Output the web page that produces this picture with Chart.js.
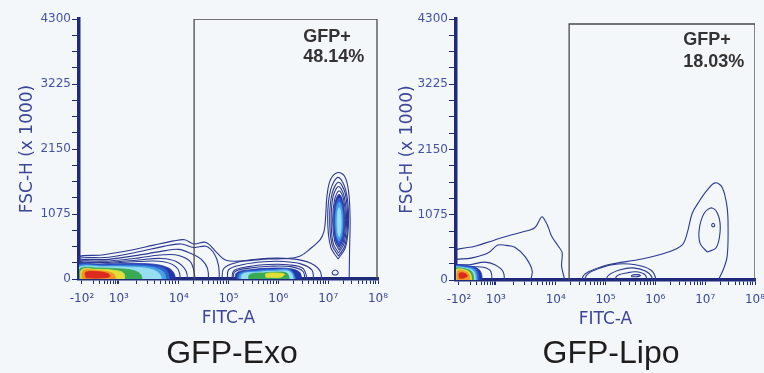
<!DOCTYPE html>
<html>
<head>
<meta charset="utf-8">
<script src="https://cdn.jsdelivr.net/npm/chart.js@4.4.0/dist/chart.umd.min.js"></script>
<style>
  body { margin: 0; width: 764px; height: 373px; overflow: hidden; background: #f4f7fa; position: relative; }
  .panel { position: absolute; top: 0; height: 373px; }
  #exoBox { left: 0; width: 398px; }
  #lipoBox { left: 380px; width: 395px; }
  .caption { position: absolute; top: 336px; left: 110px; width: 244px; text-align: center;
             font-family: "Liberation Sans", Arial, sans-serif; font-size: 32px; line-height: 32px; color: #1e1e1e; }
</style>
</head>
<body>
<div class="panel" id="exoBox">
  <canvas id="exo" width="398" height="373"></canvas>
  <div class="caption">GFP-Exo</div>
</div>
<div class="panel" id="lipoBox">
  <canvas id="lipo" width="395" height="373"></canvas>
  <div class="caption" style="left:109px">GFP-Lipo</div>
</div>
<script>
// x values are in display units of the biexponential FITC-A axis (10^4 = 2 ... 10^8 = 6)
// y values are FSC-H (x 1000). Each contour: [density level, points]; level 0 = plain contour line
const xMajorTicks = [0.06, 0.8, 2, 3, 4, 5, 6];
const xTickLabels = ['-10\u00B2', '10\u00B3', '10\u2074', '10\u2075', '10\u2076', '10\u2077', '10\u2078'];
const yMajorTicks = [0, 1075, 2150, 3225, 4300];

const exoGate = [[2.31, -60], [2.31, 4300], [5.98, 4300], [5.98, -60]];
const lipoGate = [[2.27, -60], [2.27, 4218], [6.0, 4218], [6.0, -60]];

const exoGateText = ['GFP+', '48.14%'];
const lipoGateText = ['GFP+', '18.03%'];

const exoOuter = [
  [0, [[-0.1,-100],[-0.1,330],[0.5,400],[1.0,470],[1.5,560],[1.9,630],[2.12,650],[2.3,580],[2.55,605],[2.75,450],[2.95,310],[3.3,300],[3.8,330],[4.2,340],[4.44,380],[4.64,500],[4.84,650],[4.92,800],[4.95,1050],[4.98,1400],[5.05,1650],[5.2,1760],[5.33,1700],[5.41,1450],[5.44,1000],[5.43,500],[5.42,-100]]]
];

const exoLowPop = [
  [0, [[-0.1,-100],[-0.1,300],[0.6,360],[1.2,450],[1.7,540],[2.05,580],[2.3,520],[2.55,540],[2.72,410],[2.8,220],[2.82,-100]]],
  [0, [[-0.1,-100],[-0.1,275],[0.6,325],[1.2,395],[1.7,465],[2.0,490],[2.25,420],[2.45,330],[2.58,170],[2.6,-100]]],
  [0, [[-0.1,-100],[-0.1,255],[0.6,298],[1.2,350],[1.7,400],[2.0,390],[2.25,270],[2.35,-100]]],
  [0, [[-0.1,-100],[-0.1,240],[0.6,275],[1.2,315],[1.65,340],[1.95,290],[2.15,130],[2.18,-100]]],
  [0, [[-0.1,-100],[-0.1,232],[0.6,262],[1.2,290],[1.7,285],[1.98,170],[2.05,-100]]],
  [1, [[-0.1,-100],[-0.1,222],[0.5,245],[1.0,255],[1.5,245],[1.8,180],[1.92,70],[1.92,-100]]],
  [2, [[-0.1,-100],[-0.1,210],[0.5,230],[1.0,235],[1.5,220],[1.75,150],[1.84,-100]]],
  [3, [[-0.05,-100],[-0.05,198],[0.5,214],[1.0,215],[1.45,195],[1.7,110],[1.76,-100]]],
  [4, [[0,-100],[0,185],[0.5,200],[1.0,195],[1.4,170],[1.62,80],[1.66,-100]]],
  [5, [[0.02,-100],[0.02,168],[0.4,182],[0.8,170],[1.1,140],[1.25,60],[1.25,-100]]],
  [6, [[0.05,-100],[0.05,150],[0.35,160],[0.7,145],[0.9,90],[0.9,-100]]],
  [7, [[0.08,-100],[0.08,135],[0.35,140],[0.6,115],[0.72,60],[0.72,-100]]],
  [8, [[0.14,20],[0.13,110],[0.35,125],[0.58,90],[0.62,40],[0.4,15],[0.14,20]]]
];

const exoMidPop = [
  [0, [[2.88,-100],[2.9,170],[3.2,280],[3.6,330],[4.0,345],[4.4,320],[4.7,240],[4.85,110],[4.86,-100]]],
  [0, [[3.0,-100],[3.0,150],[3.3,240],[3.7,285],[4.1,290],[4.45,250],[4.68,140],[4.7,-100]]],
  [0, [[3.08,-100],[3.1,130],[3.4,205],[3.8,240],[4.2,235],[4.5,170],[4.6,-100]]],
  [0, [[3.1,-100],[3.12,115],[3.42,180],[3.82,210],[4.25,205],[4.5,120],[4.53,-100]]],
  [0, [[5.1,70],[5.08,110],[5.14,150],[5.2,110],[5.17,70],[5.1,70]]],
  [1, [[3.14,-100],[3.16,100],[3.45,155],[3.85,180],[4.25,170],[4.44,100],[4.46,-100]]],
  [2, [[3.18,-100],[3.2,90],[3.5,140],[3.9,160],[4.25,145],[4.4,-100]]],
  [3, [[3.22,-100],[3.24,82],[3.55,125],[3.9,145],[4.25,130],[4.36,-100]]],
  [4, [[3.27,-100],[3.28,75],[3.6,112],[3.95,128],[4.24,110],[4.32,-100]]],
  [5, [[3.42,-100],[3.42,70],[3.7,100],[4.0,115],[4.18,90],[4.24,-100]]],
  [6, [[3.75,30],[3.75,85],[3.95,100],[4.12,80],[4.05,30],[3.75,30]]]
];

const exoHighPop = [
  [0, [[5.2,330],[5.35,530],[5.41,1005],[5.35,1480],[5.2,1680],[5.05,1480],[4.99,1005],[5.05,530],[5.2,330]]],
  [0, [[5.21,380],[5.34,560],[5.39,990],[5.34,1420],[5.21,1600],[5.08,1420],[5.03,990],[5.08,560],[5.21,380]]],
  [0, [[5.21,430],[5.32,590],[5.37,980],[5.32,1370],[5.21,1530],[5.1,1370],[5.06,980],[5.1,590],[5.21,430]]],
  [0, [[5.22,480],[5.31,625],[5.35,970],[5.31,1315],[5.22,1460],[5.13,1315],[5.09,970],[5.13,625],[5.22,480]]],
  [1, [[5.22,520],[5.3,650],[5.33,960],[5.3,1270],[5.22,1400],[5.14,1270],[5.11,960],[5.14,650],[5.22,520]]],
  [2, [[5.22,570],[5.28,680],[5.31,955],[5.28,1230],[5.22,1340],[5.16,1230],[5.13,955],[5.16,680],[5.22,570]]],
  [3, [[5.22,630],[5.27,720],[5.29,950],[5.27,1180],[5.22,1270],[5.17,1180],[5.15,950],[5.17,720],[5.22,630]]],
  [4, [[5.22,700],[5.248,770],[5.26,940],[5.248,1110],[5.22,1180],[5.192,1110],[5.18,940],[5.192,770],[5.22,700]]]
];

const lipoOuter = [
  [0, [[2.5,-100],[2.55,60],[2.65,130],[3.05,250],[3.73,345],[4.26,460],[4.54,580],[4.64,775],[4.74,1100],[4.86,1270],[5.04,1480],[5.2,1600],[5.34,1530],[5.44,1200],[5.46,820],[5.44,380],[5.36,165],[5.2,-100]]]
];

const lipoLowPop = [
  [0, [[-0.1,-100],[-0.1,440],[0.4,560],[0.78,660],[1.1,740],[1.33,790],[1.58,860],[1.72,1040],[1.8,960],[1.86,850],[1.92,720],[2.05,560],[2.13,450],[2.12,220],[2.22,-100]]],
  [0, [[-0.1,-100],[-0.1,300],[0.3,360],[0.64,445],[0.84,575],[1.0,570],[1.18,540],[1.39,380],[1.53,140],[1.45,-100]]],
  [0, [[-0.1,-100],[-0.1,215],[0.3,255],[0.58,295],[0.78,250],[0.95,130],[0.97,-100]]],
  [0, [[-0.1,-100],[-0.1,190],[0.3,215],[0.55,210],[0.7,140],[0.72,-100]]],
  [1, [[-0.1,-100],[-0.1,225],[0.25,235],[0.45,180],[0.52,70],[0.5,-100]]],
  [2, [[-0.1,-100],[-0.1,210],[0.25,218],[0.42,165],[0.47,-100]]],
  [3, [[-0.1,-100],[-0.1,200],[0.22,205],[0.39,150],[0.43,-100]]],
  [4, [[-0.1,-100],[-0.1,190],[0.2,195],[0.36,135],[0.4,-100]]],
  [5, [[-0.05,-100],[-0.05,180],[0.18,185],[0.33,120],[0.36,-100]]],
  [6, [[0,-100],[0,165],[0.17,170],[0.29,105],[0.32,-100]]],
  [7, [[0.03,-100],[0.03,145],[0.16,150],[0.26,90],[0.28,-100]]],
  [8, [[0.07,30],[0.06,105],[0.15,118],[0.23,70],[0.15,30],[0.07,30]]]
];

const lipoMidPop = [
  [0, [[2.58,-100],[2.62,80],[2.9,200],[3.25,264],[3.6,250],[3.9,170],[4.0,50],[4.0,-100]]],
  [0, [[3.0,-100],[3.05,70],[3.3,170],[3.55,200],[3.8,150],[3.93,50],[3.94,-100]]],
  [0, [[3.19,-100],[3.22,60],[3.45,120],[3.62,135],[3.8,80],[3.85,-100]]],
  [0, [[3.52,55],[3.53,80],[3.62,88],[3.7,75],[3.65,55],[3.52,55]]]
];

const lipoHighPop = [
  [0, [[5.04,461],[5.22,530],[5.3,800],[5.27,1050],[5.14,1187],[4.98,1100],[4.88,830],[4.9,600],[5.04,461]]],
  [0, [[5.14,880],[5.13,905],[5.16,935],[5.19,905],[5.18,880],[5.14,880]]]
];

// styles
const navy = '#2b3990';
const jet = [navy, '#2336a8', '#2e62d2', '#47a2e4', '#98def2', '#3aab55', '#e3df3a', '#f39623', '#dd2a1f'];
const axisColor = '#1f2a7a';
const tickColor = '#4452a4';

function contourSets(groups) {
  const out = [];
  groups.forEach(group => group.forEach(([level, pts]) => {
    out.push({
      data: pts.map(p => ({ x: p[0], y: p[1] })),
      showLine: true,
      pointRadius: 0,
      tension: 0.35,
      borderColor: jet[level],
      borderWidth: level === 0 ? 1.1 : 0.8,
      backgroundColor: jet[level],
      fill: level === 0 ? false : 'shape'
    });
  }));
  return out;
}

function xTicksAll() {
  const ticks = xMajorTicks.slice();
  [2, 3, 4, 5, 6, 7, 8, 9].forEach(k => {
    const l = Math.log10(k);
    ticks.push(0.8 + 0.74 * (l - 1));
    ticks.push(0.8 + 1.2 * l);
    for (let d = 2; d < 6; d++) ticks.push(d + l);
  });
  return ticks.sort((a, b) => a - b);
}

function yTicksAll() {
  const ticks = [];
  for (let i = 0; i < yMajorTicks.length - 1; i++) {
    const step = (yMajorTicks[i + 1] - yMajorTicks[i]) / 4;
    for (let j = 0; j < 4; j++) ticks.push(yMajorTicks[i] + j * step);
  }
  ticks.push(yMajorTicks[yMajorTicks.length - 1]);
  return ticks;
}

const gateText = {
  id: 'gateText',
  afterDatasetsDraw(chart, args, opts) {
    const { ctx, scales: { x, y } } = chart;
    ctx.save();
    ctx.font = 'bold 18px "Liberation Sans", Arial, sans-serif';
    ctx.fillStyle = '#333333';
    ctx.textBaseline = 'alphabetic';
    opts.lines.forEach((t, i) => ctx.fillText(t, x.getPixelForValue(opts.x), y.getPixelForValue(opts.y[i])));
    ctx.restore();
  }
};

function makeChart(id, groups, gate, text, textPos, geo) {
  const datasets = contourSets(groups);
  datasets.push({
    data: gate.map(p => ({ x: p[0], y: p[1] })),
    showLine: true, pointRadius: 0, tension: 0,
    borderColor: '#4a4a4a', borderWidth: 1.3, fill: false
  });
  datasets.forEach((d, i) => { d.order = datasets.length - i; });

  return new Chart(document.getElementById(id), {
    type: 'scatter',
    data: { datasets: datasets },
    plugins: [gateText],
    options: {
      responsive: false,
      animation: false,
      devicePixelRatio: 1,
      layout: { padding: { left: 0, right: 20, top: 19, bottom: geo.bottom } },
      elements: { line: { capBezierPoints: false } },
      plugins: {
        legend: { display: false },
        tooltip: { enabled: false },
        gateText: { lines: text, x: textPos.x, y: textPos.y }
      },
      scales: {
        x: {
          type: 'linear', min: 0, max: 6,
          afterFit: s => { s.height = 50; },
          afterBuildTicks: s => { s.ticks = xTicksAll().map(v => ({ value: v })); },
          ticks: {
            autoSkip: false, maxRotation: 0, padding: 8, color: '#3a469a',
            font: { family: 'DejaVu Sans', size: 12 },
            callback: (v, i, ticks) => {
              const k = xMajorTicks.indexOf(ticks[i].value);
              return k >= 0 ? xTickLabels[k] : '';
            }
          },
          grid: { drawOnChartArea: false, drawTicks: true, tickLength: 5, color: axisColor, tickWidth: 1 },
          border: { color: axisColor, width: 3.5 },
          title: { display: true, text: 'FITC-A', color: '#3b4698', font: { family: 'DejaVu Sans', size: 17 }, padding: 0 }
        },
        y: {
          type: 'linear', min: 0, max: 4300,
          afterFit: s => { s.width = geo.left; },
          afterBuildTicks: s => { s.ticks = yTicksAll().map(v => ({ value: v })); },
          ticks: {
            autoSkip: false, padding: 1, color: tickColor,
            font: { family: 'DejaVu Sans', size: 12 },
            callback: v => yMajorTicks.includes(v) ? String(v) : ''
          },
          grid: { drawOnChartArea: false, drawTicks: true, tickLength: 7, color: axisColor, tickWidth: 1 },
          border: { color: axisColor, width: 3.5 },
          title: { display: true, text: 'FSC-H (x 1000)', color: '#3b4698', font: { family: 'DejaVu Sans', size: 17 }, padding: { top: 17, bottom: 0 } }
        }
      }
    }
  });
}

makeChart('exo', [exoOuter, exoLowPop, exoMidPop, exoHighPop], exoGate, exoGateText,
  { x: 4.5, y: [3920, 3589] }, { left: 79, bottom: 44 });
makeChart('lipo', [lipoOuter, lipoLowPop, lipoMidPop, lipoHighPop], lipoGate, lipoGateText,
  { x: 4.56, y: [3873, 3510] }, { left: 76, bottom: 43 });
</script>
</body>
</html>
